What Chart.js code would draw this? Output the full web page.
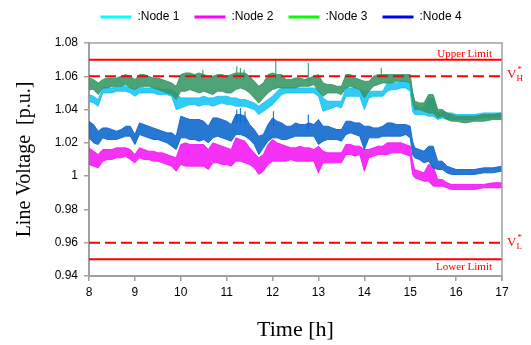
<!DOCTYPE html>
<html>
<head>
<meta charset="utf-8">
<script src="https://cdn.jsdelivr.net/npm/chart.js@4/dist/chart.umd.min.js"></script>
<style>
  body { margin: 0; background: #fff; }
  #wrap { width: 531px; height: 345px; }
</style>
</head>
<body>
<div id="wrap"><canvas id="myChart"></canvas></div>
<script>
// time [h]
var times = [
  8, 8.1, 8.2, 8.3, 8.4, 8.5, 8.6, 8.7, 8.8, 8.9,
  9, 9.1, 9.2, 9.3, 9.4, 9.5, 9.6, 9.7, 9.8, 9.9,
  10, 10.1, 10.2, 10.3, 10.4, 10.5, 10.6, 10.7, 10.8, 10.9,
  11, 11.1, 11.2, 11.3, 11.4, 11.5, 11.6, 11.7, 11.8, 11.9,
  12, 12.1, 12.2, 12.3, 12.4, 12.5, 12.6, 12.7, 12.8, 12.9,
  13, 13.1, 13.2, 13.3, 13.4, 13.5, 13.6, 13.7, 13.8, 13.9,
  14, 14.1, 14.2, 14.3, 14.4, 14.5, 14.6, 14.7, 14.8, 14.9,
  15, 15.05, 15.1, 15.2, 15.3, 15.4, 15.5, 15.6, 15.7, 15.8, 15.9,
  16, 16.2, 16.4, 16.6, 16.8, 17
];

// upper / lower edge of each noisy voltage trace [p.u.]
var node1Hi = [
  1.049, 1.048, 1.046, 1.053, 1.053, 1.053, 1.054, 1.054, 1.054, 1.053,
  1.052, 1.054, 1.053, 1.053, 1.053, 1.053, 1.052, 1.052, 1.052, 1.050,
  1.047, 1.047, 1.047, 1.047, 1.047, 1.048, 1.047, 1.047, 1.048, 1.048,
  1.048, 1.047, 1.047, 1.046, 1.046, 1.045, 1.044, 1.042, 1.044, 1.046,
  1.048, 1.051, 1.053, 1.053, 1.053, 1.053, 1.053, 1.053, 1.053, 1.053,
  1.052, 1.047, 1.045, 1.045, 1.045, 1.045, 1.053, 1.053, 1.053, 1.052,
  1.051, 1.051, 1.051, 1.051, 1.051, 1.056, 1.056, 1.056, 1.057, 1.057,
  1.056, 1.049, 1.043, 1.041, 1.041, 1.047, 1.047, 1.038, 1.039, 1.038, 1.038,
  1.037, 1.037, 1.037, 1.038, 1.038, 1.038
];
var node1Lo = [
  1.045, 1.044, 1.042, 1.050, 1.050, 1.050, 1.051, 1.051, 1.051, 1.050,
  1.048, 1.050, 1.050, 1.050, 1.050, 1.049, 1.049, 1.049, 1.048, 1.040,
  1.041, 1.042, 1.043, 1.043, 1.042, 1.043, 1.043, 1.042, 1.043, 1.044,
  1.043, 1.043, 1.042, 1.042, 1.042, 1.041, 1.040, 1.037, 1.039, 1.041,
  1.043, 1.046, 1.049, 1.050, 1.050, 1.050, 1.050, 1.050, 1.050, 1.050,
  1.048, 1.039, 1.040, 1.041, 1.042, 1.041, 1.048, 1.048, 1.048, 1.048,
  1.040, 1.047, 1.048, 1.048, 1.048, 1.051, 1.052, 1.052, 1.053, 1.053,
  1.051, 1.039, 1.037, 1.037, 1.037, 1.036, 1.036, 1.034, 1.035, 1.034, 1.034,
  1.034, 1.034, 1.034, 1.035, 1.035, 1.035
];
var node2Hi = [
  1.017, 1.015, 1.013, 1.016, 1.016, 1.016, 1.017, 1.017, 1.017, 1.016,
  1.013, 1.017, 1.016, 1.015, 1.015, 1.014, 1.014, 1.013, 1.012, 1.011,
  1.019, 1.020, 1.019, 1.019, 1.019, 1.019, 1.016, 1.020, 1.019, 1.018,
  1.017, 1.016, 1.023, 1.022, 1.021, 1.017, 1.014, 1.011, 1.013, 1.019,
  1.022, 1.020, 1.019, 1.018, 1.017, 1.017, 1.018, 1.017, 1.017, 1.016,
  1.018, 1.015, 1.014, 1.014, 1.014, 1.014, 1.019, 1.019, 1.018, 1.018,
  1.016, 1.016, 1.017, 1.018, 1.018, 1.020, 1.020, 1.020, 1.020, 1.019,
  1.018, 1.009, 1.004, 1.003, 1.002, 1.007, 1.006, 0.998, 0.998, 0.996, 0.995,
  0.995, 0.995, 0.995, 0.995, 0.996, 0.996
];
var node2Lo = [
  1.007, 1.006, 1.005, 1.009, 1.010, 1.010, 1.011, 1.011, 1.012, 1.010,
  1.008, 1.011, 1.010, 1.010, 1.009, 1.009, 1.008, 1.007, 1.006, 1.003,
  1.007, 1.006, 1.006, 1.006, 1.006, 1.006, 1.004, 1.008, 1.008, 1.007,
  1.007, 1.006, 1.009, 1.009, 1.008, 1.007, 1.005, 1.001, 1.003, 1.007,
  1.009, 1.009, 1.009, 1.009, 1.010, 1.009, 1.009, 1.009, 1.009, 1.009,
  1.002, 1.008, 1.008, 1.008, 1.008, 1.008, 1.013, 1.013, 1.012, 1.013,
  1.003, 1.011, 1.012, 1.013, 1.013, 1.013, 1.014, 1.014, 1.014, 1.013,
  1.012, 1.001, 0.999, 0.998, 0.997, 0.997, 0.994, 0.994, 0.994, 0.993, 0.992,
  0.992, 0.992, 0.992, 0.993, 0.993, 0.993
];
var node3Hi = [
  1.059, 1.058, 1.056, 1.058, 1.059, 1.059, 1.059, 1.060, 1.061, 1.060,
  1.058, 1.061, 1.061, 1.060, 1.059, 1.059, 1.058, 1.057, 1.056, 1.054,
  1.061, 1.062, 1.062, 1.061, 1.062, 1.061, 1.060, 1.060, 1.061, 1.061,
  1.060, 1.061, 1.062, 1.062, 1.062, 1.060, 1.057, 1.054, 1.056, 1.061,
  1.062, 1.061, 1.061, 1.058, 1.058, 1.059, 1.059, 1.058, 1.059, 1.060,
  1.061, 1.056, 1.055, 1.055, 1.054, 1.054, 1.061, 1.061, 1.059, 1.058,
  1.057, 1.057, 1.060, 1.061, 1.061, 1.061, 1.061, 1.061, 1.061, 1.061,
  1.061, 1.051, 1.045, 1.044, 1.044, 1.049, 1.049, 1.040, 1.040, 1.038, 1.037,
  1.036, 1.036, 1.036, 1.037, 1.037, 1.038
];
var node3Lo = [
  1.052, 1.052, 1.049, 1.053, 1.053, 1.054, 1.054, 1.054, 1.055, 1.053,
  1.052, 1.054, 1.054, 1.054, 1.053, 1.052, 1.051, 1.050, 1.049, 1.046,
  1.051, 1.051, 1.052, 1.051, 1.050, 1.051, 1.050, 1.049, 1.051, 1.051,
  1.050, 1.050, 1.052, 1.053, 1.052, 1.050, 1.047, 1.044, 1.047, 1.050,
  1.052, 1.053, 1.053, 1.053, 1.053, 1.053, 1.054, 1.054, 1.054, 1.055,
  1.051, 1.048, 1.050, 1.050, 1.050, 1.049, 1.053, 1.054, 1.053, 1.052,
  1.047, 1.051, 1.054, 1.055, 1.056, 1.056, 1.056, 1.057, 1.057, 1.057,
  1.056, 1.045, 1.040, 1.040, 1.039, 1.038, 1.038, 1.035, 1.036, 1.034, 1.033,
  1.033, 1.032, 1.033, 1.033, 1.034, 1.034
];
var node4Hi = [
  1.033, 1.031, 1.027, 1.029, 1.029, 1.028, 1.027, 1.028, 1.030, 1.030,
  1.025, 1.032, 1.031, 1.030, 1.029, 1.028, 1.027, 1.026, 1.026, 1.024,
  1.036, 1.035, 1.034, 1.034, 1.034, 1.033, 1.030, 1.035, 1.035, 1.034,
  1.033, 1.031, 1.037, 1.037, 1.036, 1.031, 1.028, 1.024, 1.025, 1.031,
  1.035, 1.033, 1.032, 1.030, 1.030, 1.032, 1.031, 1.031, 1.032, 1.031,
  1.034, 1.030, 1.030, 1.029, 1.028, 1.028, 1.033, 1.033, 1.032, 1.032,
  1.030, 1.030, 1.029, 1.029, 1.030, 1.032, 1.032, 1.031, 1.031, 1.031,
  1.030, 1.021, 1.017, 1.016, 1.015, 1.018, 1.018, 1.009, 1.009, 1.006, 1.005,
  1.004, 1.004, 1.004, 1.005, 1.005, 1.006
];
var node4Lo = [
  1.023, 1.020, 1.019, 1.023, 1.022, 1.022, 1.022, 1.023, 1.024, 1.024,
  1.019, 1.025, 1.024, 1.023, 1.022, 1.022, 1.021, 1.020, 1.018, 1.016,
  1.023, 1.023, 1.022, 1.022, 1.021, 1.022, 1.020, 1.023, 1.024, 1.023,
  1.022, 1.021, 1.025, 1.025, 1.024, 1.022, 1.019, 1.013, 1.017, 1.021,
  1.023, 1.023, 1.022, 1.022, 1.023, 1.024, 1.024, 1.024, 1.024, 1.024,
  1.019, 1.021, 1.022, 1.022, 1.022, 1.021, 1.025, 1.026, 1.025, 1.024,
  1.016, 1.023, 1.023, 1.023, 1.024, 1.024, 1.024, 1.024, 1.024, 1.025,
  1.023, 1.013, 1.011, 1.010, 1.008, 1.009, 1.005, 1.004, 1.004, 1.002, 1.001,
  1.001, 1.001, 1.001, 1.002, 1.002, 1.003
];

// single-sample spikes sticking out of the traces
var spike3Times = [10.48, 11.22, 11.3, 11.38, 12.07, 12.78, 14.37];
var spike3Base = [1.058, 1.058, 1.058, 1.058, 1.058, 1.057, 1.059];
var spike3Top = [1.064, 1.066, 1.065, 1.064, 1.070, 1.068, 1.065];
var spike4Times = [11.22, 11.3, 11.4, 12.02, 12.78];
var spike4Base = [1.032, 1.032, 1.032, 1.030, 1.028];
var spike4Top = [1.040, 1.041, 1.039, 1.039, 1.037];

// limit levels [p.u.]
var upperLimit = 1.07;
var vHigh = 1.06;
var vLow = 0.96;
var lowerLimit = 0.95;

var legendNames = [':Node 1', ':Node 2', ':Node 3', ':Node 4'];
var legendColours = ['#00ffff', '#ff00ff', '#00ff00', '#0000ff'];
var lineColours = ['rgba(20,196,245,0.88)', 'rgba(245,20,245,0.88)', 'rgba(52,150,100,0.88)', 'rgba(10,100,205,0.88)'];

var toPoints = function(values){
    return times.map(function(t, i){
        return {x: t, y: values[i]};
    });
}

var band = function(hi, lo, colour, order){
    return [{
        data: toPoints(hi),
        borderColor: colour,
        backgroundColor: colour,
        borderWidth: 1,
        fill: '+1',
        order: order
    }, {
        data: toPoints(lo),
        borderColor: colour,
        borderWidth: 1,
        fill: false,
        order: order
    }];
}

var spikes = function(ts, base, top, colour, order){
    var pts = [];
    ts.forEach(function(t, i){
        pts.push({x: t, y: base[i]});
        pts.push({x: t, y: top[i]});
        pts.push({x: t, y: null});
    })
    return {
        data: pts,
        borderColor: colour,
        borderWidth: 1.2,
        fill: false,
        spanGaps: false,
        order: order
    };
}

var limitLine = function(value, dashed){
    return {
        data: [{x: 8, y: value}, {x: 17, y: value}],
        borderColor: '#ff0000',
        borderWidth: 2,
        borderDash: dashed ? [11, 5] : [],
        fill: false,
        order: 0
    };
}

var datasets = []
    .concat(band(node1Hi, node1Lo, lineColours[0], 4))
    .concat(band(node2Hi, node2Lo, lineColours[1], 3))
    .concat(band(node3Hi, node3Lo, lineColours[2], 2))
    .concat(band(node4Hi, node4Lo, lineColours[3], 1));
datasets.push(spikes(spike3Times, spike3Base, spike3Top, lineColours[2], 2));
datasets.push(spikes(spike4Times, spike4Base, spike4Top, lineColours[3], 1));
datasets.push(limitLine(upperLimit, false));
datasets.push(limitLine(vHigh, true));
datasets.push(limitLine(vLow, true));
datasets.push(limitLine(lowerLimit, false));

// frame, limit names and V_H*, V_L* marks
var limitText = {
    id: 'limitText',
    afterLayout: function(chart){
        // move legend to sit over the plot like the original
        var lg = chart.legend;
        lg.left += 30; lg.right += 30;
        lg.top -= 10; lg.bottom -= 10;
    },
    afterDraw: function(chart){
        var ctx = chart.ctx;
        var a = chart.chartArea;
        var y = chart.scales.y;
        ctx.save();
        ctx.strokeStyle = '#a0a0a0';
        ctx.lineWidth = 1.5;
        ctx.beginPath();
        ctx.moveTo(a.left, a.top);
        ctx.lineTo(a.right, a.top);
        ctx.lineTo(a.right, a.bottom + 5);
        ctx.stroke();

        ctx.fillStyle = '#ff0000';
        ctx.font = '11px "Liberation Serif"';
        ctx.textAlign = 'right';
        ctx.textBaseline = 'alphabetic';
        ctx.fillText('Upper Limit', a.right - 10, y.getPixelForValue(upperLimit) - 3);
        ctx.textBaseline = 'top';
        ctx.fillText('Lower Limit', a.right - 10, y.getPixelForValue(lowerLimit) + 2);

        var drawV = function(sub, yy){
            var x0 = a.right + 5;
            ctx.textAlign = 'left';
            ctx.textBaseline = 'alphabetic';
            ctx.font = '13px "Liberation Serif"';
            ctx.fillText('V', x0, yy);
            var w = ctx.measureText('V').width;
            ctx.font = '9px "Liberation Serif"';
            ctx.fillText(sub, x0 + w, yy + 3);
            ctx.fillText('*', x0 + w + 1, yy - 6);
        }
        drawV('H', y.getPixelForValue(vHigh) + 2);
        drawV('L', y.getPixelForValue(vLow) + 3);
        ctx.restore();
    }
};

var axisGrid = {
    display: true,
    drawOnChartArea: false,
    drawTicks: true,
    tickLength: 5,
    color: '#a0a0a0',
    lineWidth: 1.5
};

var ctx = document.getElementById('myChart');
var myChart = new Chart(ctx, {
    type: 'line',
    data: { datasets: datasets },
    plugins: [limitText],
    options: {
        responsive: true,
        maintainAspectRatio: false,
        animation: false,
        layout: { padding: { top: 6, right: 29, left: 0, bottom: 0 } },
        elements: {
            point: { radius: 0 },
            line: { tension: 0 }
        },
        plugins: {
            tooltip: { enabled: false },
            legend: {
                position: 'top',
                labels: {
                    boxWidth: 31,
                    boxHeight: 3,
                    padding: 15,
                    color: '#000',
                    font: { family: 'Liberation Sans', size: 12 },
                    generateLabels: function(){
                        return legendNames.map(function(name, i){
                            return {
                                text: name,
                                fillStyle: legendColours[i],
                                strokeStyle: legendColours[i],
                                lineWidth: 0,
                                hidden: false,
                                datasetIndex: i * 2
                            };
                        });
                    }
                }
            }
        },
        scales: {
            x: {
                type: 'linear',
                min: 8,
                max: 17,
                ticks: {
                    stepSize: 1,
                    padding: 4,
                    color: '#000',
                    font: { family: 'Liberation Sans', size: 12 }
                },
                grid: axisGrid,
                border: { display: true, color: '#a0a0a0', width: 2 },
                title: {
                    display: true,
                    text: 'Time [h]',
                    color: '#000',
                    font: { family: 'Liberation Serif', size: 22 },
                    padding: { top: 0, bottom: 2 }
                },
                afterFit: function(scale){ scale.height = 69; }
            },
            y: {
                min: 0.94,
                max: 1.08,
                ticks: {
                    stepSize: 0.02,
                    padding: 6,
                    color: '#000',
                    font: { family: 'Liberation Sans', size: 12 },
                    callback: function(v){ return String(Number(v.toFixed(2))); }
                },
                grid: axisGrid,
                border: { display: true, color: '#a0a0a0', width: 2 },
                title: {
                    display: true,
                    text: 'Line Voltage  [p.u.]',
                    color: '#000',
                    font: { family: 'Liberation Serif', size: 20 },
                    padding: { top: 13, bottom: 0 }
                },
                afterFit: function(scale){ scale.width = 89; }
            }
        }
    }
});
</script>
</body>
</html>
